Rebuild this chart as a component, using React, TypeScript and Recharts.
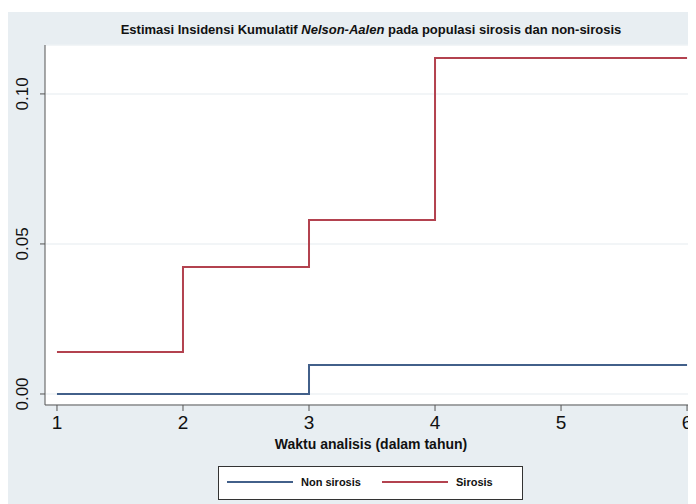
import React from 'react';
import {
  ComposedChart, Line, XAxis, YAxis, CartesianGrid, Legend
} from 'recharts';

// Nelson-Aalen cumulative hazard
const years = [1, 2, 3, 4, 6];
const nonSirosis = [0, 0, 0.0097, 0.0097, 0.0097];
const sirosis = [0.014, 0.0423, 0.058, 0.112, 0.112];

const xTicks = [1, 2, 3, 4, 5, 6];
const yTicks = [0, 0.05, 0.1];

const seriesNames = ['Non sirosis', 'Sirosis'];
const seriesColors = ['#42608a', '#b3424f'];

const chartData = years.map((t, i) => ({
  t,
  non: nonSirosis[i],
  sir: sirosis[i],
}));

const NARROW = '"Liberation Sans Narrow", "Arial Narrow", "Liberation Sans", Arial, sans-serif';
const SANS = '"Liberation Sans", Arial, sans-serif';

// rotated y tick labels like Stata
const YTick = (props: any) => {
  const { x, y, payload } = props;
  const bx = x - 10;
  return (
    <text
      x={bx}
      y={y}
      transform={`rotate(-90, ${bx}, ${y})`}
      textAnchor="middle"
      fontSize={17}
      fontFamily={SANS}
      fill="#111"
    >
      {payload.value.toFixed(2)}
    </text>
  );
};

const XTick = (props: any) => {
  const { x, y, payload } = props;
  return (
    <text x={x} y={y + 16} textAnchor="middle" fontSize={19} fontFamily={SANS} fill="#111">
      {payload.value}
    </text>
  );
};

const LegendBox = () => (
  <div
    style={{
      position: 'absolute',
      left: 210,
      top: 454,
      width: 303,
      height: 32,
      background: '#fff',
      border: '1px solid #333',
      fontFamily: NARROW,
      fontWeight: 'bold',
      fontSize: 11,
      color: '#111',
    }}
  >
    {seriesNames.map((name, i) => (
      <div
        key={name}
        style={{ position: 'absolute', left: i === 0 ? 8 : 163, top: 9, display: 'flex', alignItems: 'center' }}
      >
        <div style={{ width: 66, height: 2, background: seriesColors[i], marginRight: 8 }} />
        <span>{name}</span>
      </div>
    ))}
  </div>
);

export default function App() {
  return (
    <div
      style={{
        position: 'relative',
        width: 688,
        height: 492,
        marginTop: 4,
        background: '#e8eef2',
        overflow: 'hidden',
      }}
    >
      <div
        style={{
          position: 'absolute',
          left: 0,
          width: 726,
          top: 10,
          textAlign: 'center',
          fontFamily: NARROW,
          fontWeight: 'bold',
          fontSize: 13,
          color: '#111',
        }}
      >
        Estimasi Insidensi Kumulatif <i>Nelson-Aalen</i> pada populasi sirosis dan non-sirosis
      </div>
      <div
        style={{
          position: 'absolute',
          left: 0,
          width: 726,
          top: 424,
          textAlign: 'center',
          fontFamily: NARROW,
          fontWeight: 'bold',
          fontSize: 14,
          color: '#111',
        }}
      >
        Waktu analisis (dalam tahun)
      </div>
      <div style={{ position: 'absolute', left: 37, top: 33, width: 651, height: 360, background: '#fff' }} />
      <ComposedChart
        width={688}
        height={492}
        data={chartData}
        margin={{ top: 33, right: 0, left: 0, bottom: 69 }}
        style={{ position: 'absolute', left: 0, top: 0 }}
      >
        <CartesianGrid vertical={false} stroke="#eef2f4" strokeWidth={1.5} />
        <XAxis
          dataKey="t"
          type="number"
          domain={[0.905, 6.071]}
          ticks={xTicks}
          allowDataOverflow
          height={30}
          stroke="#555"
          tickSize={6}
          tick={<XTick />}
        />
        <YAxis
          type="number"
          domain={[-0.00367, 0.1163]}
          ticks={yTicks}
          allowDataOverflow
          width={37}
          stroke="#555"
          tickSize={5}
          tick={<YTick />}
        />
        <Line
          type="stepAfter"
          dataKey="non"
          name={seriesNames[0]}
          stroke={seriesColors[0]}
          strokeWidth={2}
          dot={false}
          isAnimationActive={false}
        />
        <Line
          type="stepAfter"
          dataKey="sir"
          name={seriesNames[1]}
          stroke={seriesColors[1]}
          strokeWidth={2}
          dot={false}
          isAnimationActive={false}
        />
        <Legend content={() => null} />
      </ComposedChart>
      <LegendBox />
    </div>
  );
}
